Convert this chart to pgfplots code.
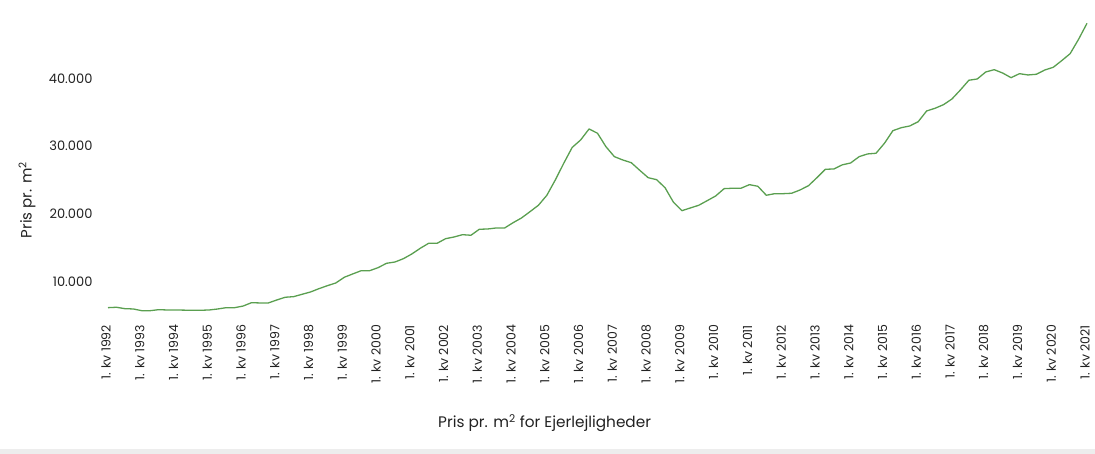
\documentclass[border=0pt]{standalone}
\usepackage{pgfplots}
\pgfplotsset{compat=1.18}
\usepackage{pgfplotstable}
\usepackage{fontspec}
\setmainfont{Poppins}
\definecolor{linegreen}{HTML}{5A9F50}
\definecolor{txt}{HTML}{222222}
\pgfplotstableread{
i v
0 6165
1 6224
2 6018
3 5973
4 5720
5 5720
6 5870
7 5825
8 5825
9 5800
10 5780
11 5780
12 5825
13 5970
14 6165
15 6165
16 6400
17 6900
18 6860
19 6860
20 7300
21 7700
22 7790
23 8140
24 8480
25 8970
26 9410
27 9810
28 10650
29 11140
30 11620
31 11620
32 12065
33 12710
34 12900
35 13390
36 14085
37 14925
38 15665
39 15665
40 16340
41 16590
42 16930
43 16845
44 17730
45 17770
46 17920
47 17920
48 18700
49 19400
50 20325
51 21270
52 22745
53 25000
54 27465
55 29800
56 30900
57 32525
58 31890
59 29910
60 28440
61 27950
62 27550
63 26430
64 25340
65 25045
66 23865
67 21710
68 20470
69 20870
70 21270
71 21950
72 22640
73 23720
74 23780
75 23780
76 24310
77 24070
78 22745
79 22980
80 22980
81 23040
82 23525
83 24160
84 25340
85 26580
86 26620
87 27230
88 27510
89 28440
90 28840
91 28940
92 30415
93 32275
94 32715
95 32965
96 33600
97 35180
98 35580
99 36110
100 36950
101 38280
102 39710
103 39900
104 40930
105 41270
106 40780
107 40090
108 40680
109 40490
110 40590
111 41225
112 41620
113 42600
114 43630
115 45750
116 48110
}\prices
\begin{document}
\begin{tikzpicture}
\useasboundingbox (0,0) rectangle (1095pt,454pt);
\fill[black!7] (0,0) rectangle (1095pt,5pt);
\begin{axis}[
  at={(108pt,142.5pt)}, anchor=south west,
  scale only axis, width=979pt, height=288.8pt,
  xmin=0, xmax=116, ymin=5600, ymax=48200,
  axis line style={draw=none}, tick style={draw=none},
  major tick length=0pt,
  scaled y ticks=false,
  xtick={0,4,...,116},
  xticklabels={1. kv 1992,1. kv 1993,1. kv 1994,1. kv 1995,1. kv 1996,1. kv 1997,1. kv 1998,1. kv 1999,1. kv 2000,1. kv 2001,1. kv 2002,1. kv 2003,1. kv 2004,1. kv 2005,1. kv 2006,1. kv 2007,1. kv 2008,1. kv 2009,1. kv 2010,1. kv 2011,1. kv 2012,1. kv 2013,1. kv 2014,1. kv 2015,1. kv 2016,1. kv 2017,1. kv 2018,1. kv 2019,1. kv 2020,1. kv 2021},
  xticklabel style={rotate=90, anchor=east, font=\fontsize{12.5}{14}\selectfont, text=txt, xshift=-10pt, yshift=2pt},
  ytick={10000,20000,30000,40000},
  yticklabel style={font=\fontsize{13}{15}\selectfont, text=txt, xshift=-12pt},
  /pgf/number format/.cd, 1000 sep={.}, assume math mode=true, /pgfplots/.cd,
  ylabel={Pris pr. m\textsuperscript{2}},
  ylabel style={at={(axis description cs:-0.0827,0.386)}, anchor=center, rotate=0, font=\fontsize{15}{17}\selectfont, text=txt},
  xlabel={Pris pr. m\textsuperscript{2} for Ejerlejligheder},
  xlabel style={at={(axis description cs:0.446,-0.386)}, anchor=center, font=\fontsize{15.3}{17}\selectfont, text=txt},
  clip=false,
]
\addplot[linegreen, line width=1.3pt, line join=round] table[x=i, y=v] {\prices};
\end{axis}
\end{tikzpicture}
\end{document}
